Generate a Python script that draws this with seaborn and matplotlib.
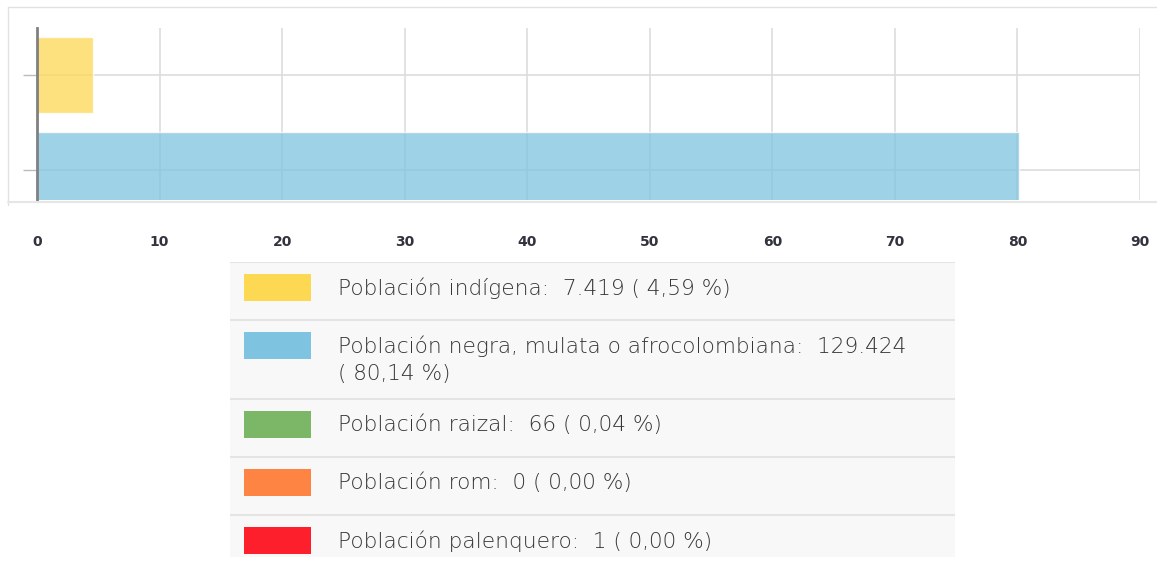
import matplotlib
matplotlib.use("Agg")
import matplotlib.pyplot as plt
from matplotlib.lines import Line2D
from matplotlib.patches import Rectangle
import seaborn as sns

# ── Data ─────────────────────────────────────────────────────────────────────
groups = ["Población indígena", "Población negra, mulata o afrocolombiana",
          "Población raizal", "Población rom", "Población palenquero"]
counts = [7419, 129424, 66, 0, 1]
pcts = [4.59, 80.14, 0.04, 0.00, 0.00]
colors = ["#FDD853", "#7EC4E0", "#7CB767", "#FD8442", "#FE1F2D"]
xticks = [0, 10, 20, 30, 40, 50, 60, 70, 80, 90]

W, H = 1157, 572
sns.set_style("white")
plt.rcParams["font.family"] = ["DejaVu Sans"]

fig = plt.figure(figsize=(W / 100, H / 100), dpi=100, facecolor="white")

# ── Bar chart ────────────────────────────────────────────────────────────────
ax = fig.add_axes([37 / W, 1 - 200 / H, (1140 - 37) / W, 172 / H])
sns.barplot(x=pcts, y=groups, hue=groups, palette=colors, legend=False,
            orient="h", width=0.8, alpha=0.75, saturation=1, ax=ax, zorder=2)
ax.set_xlim(0, 90)
ax.set_ylim(1.316, -0.5)
ax.set_xticks(xticks)
ax.set_xticklabels([str(t) for t in xticks], fontsize=10, fontweight="bold",
                   color="#33333f")
ax.set_yticklabels([])
ax.set_xlabel("")
ax.set_ylabel("")
ax.grid(True, color="#dddddd", lw=1.2, zorder=0)
ax.set_axisbelow(True)
ax.tick_params(axis="x", length=0, pad=25)
ax.tick_params(axis="y", length=10, color="#bbbbbb", width=1, left=True)
for s in ["top", "right", "bottom"]:
    ax.spines[s].set_visible(False)
ax.spines["left"].set_color("#808080")
ax.spines["left"].set_linewidth(2)

# screenshot frame lines
fig.add_artist(Line2D([8 / W, 1], [1 - 7 / H, 1 - 7 / H], color="#e2e2e2", lw=1))
fig.add_artist(Line2D([8 / W, 8 / W], [1 - 7 / H, 1 - 205 / H], color="#e2e2e2", lw=1))
fig.add_artist(Line2D([8 / W, 1], [1 - 202 / H, 1 - 202 / H], color="#e6e6e6", lw=1.5))

# ── Legend table ─────────────────────────────────────────────────────────────
lax = fig.add_axes([230 / W, 1 - 557 / H, 725 / W, 295 / H])
lax.set_xlim(0, 725)
lax.set_ylim(295, 0)
lax.axis("off")

top = 0
for name, c, p, col in zip(groups, counts, pcts, colors):
    cnt = f"{c:,}".replace(",", ".")
    pct = f"{p:.2f}".replace(".", ",")
    if len(name) > 30:
        lines = [f"{name}:  {cnt}", f"( {pct} %)"]
    else:
        lines = [f"{name}:  {cnt} ( {pct} %)"]
    h = 58 + 21 * (len(lines) - 1)
    lax.add_patch(Rectangle((0, top), 725, h, facecolor="#f8f8f8", edgecolor="none"))
    lax.plot([0, 725], [top, top], color="#e4e4e4", lw=1.5)
    lax.add_patch(Rectangle((14, top + 12), 67, 27, facecolor=col, edgecolor="none"))
    for i, ln in enumerate(lines):
        lax.text(108, top + 26 + 28 * i, ln, va="center", ha="left", fontsize=15.6,
                 color="#353535", fontweight="light")
    top += h

fig.savefig("out.png", dpi=100, facecolor="white")
